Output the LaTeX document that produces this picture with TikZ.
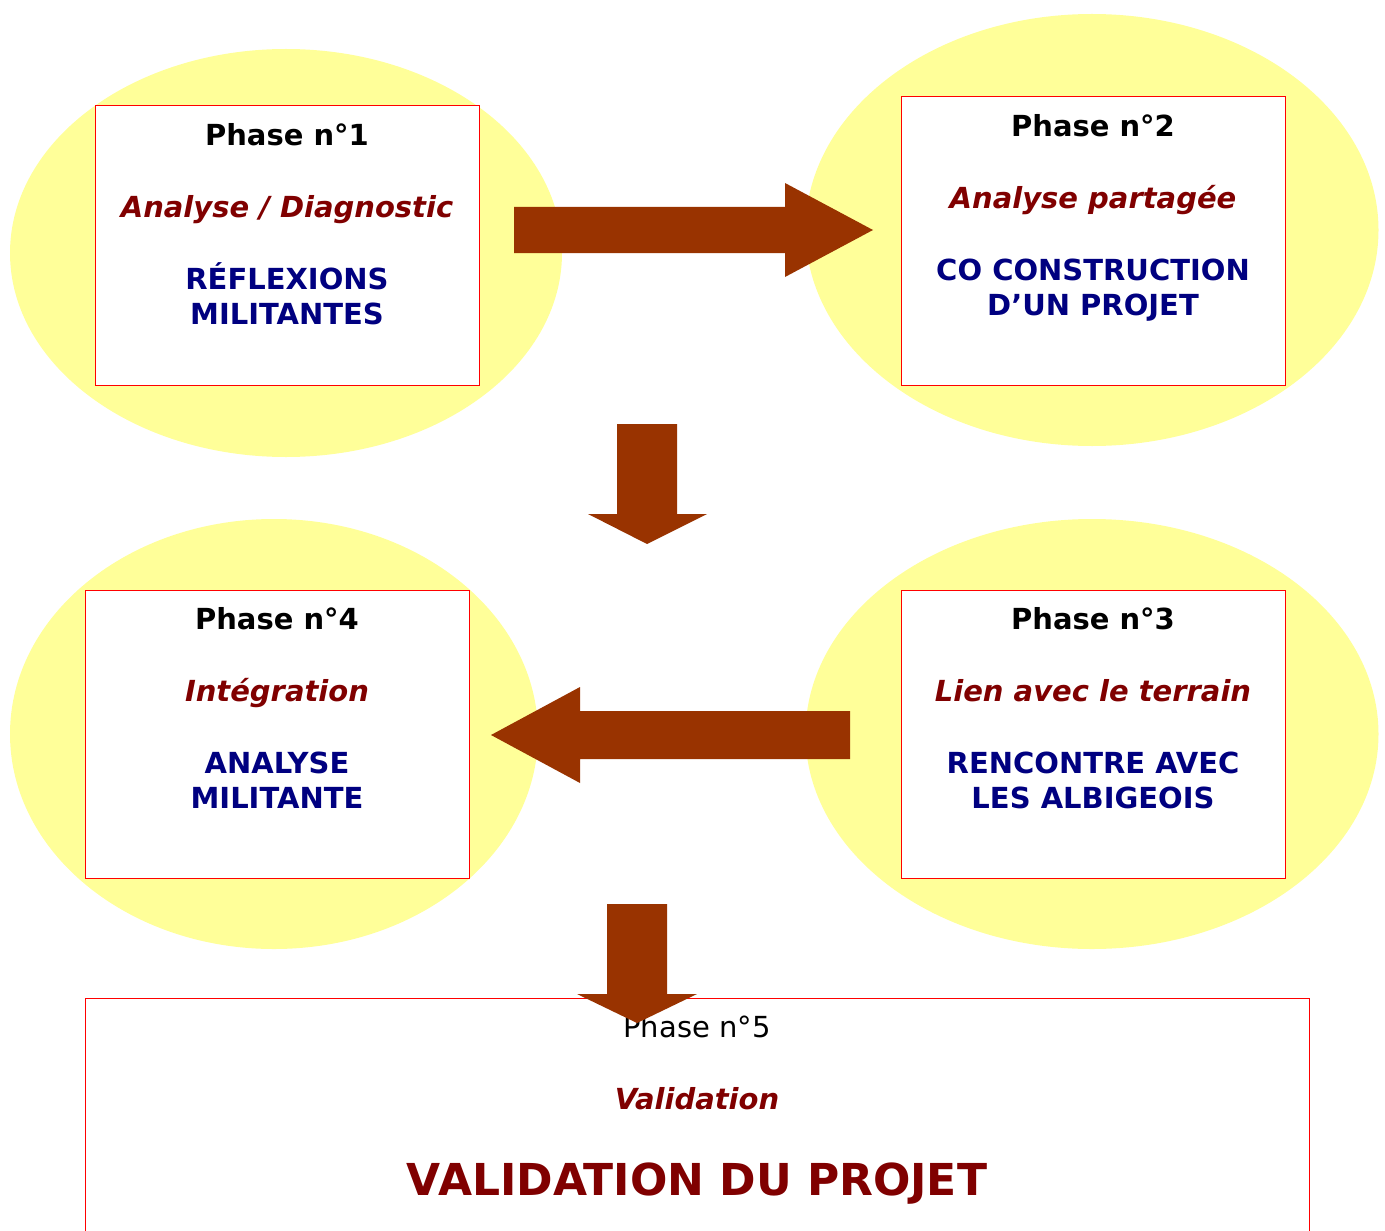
\documentclass[tikz,border=0pt]{standalone}
\usepackage{fontspec}
\setmainfont{DejaVu Sans}
\usetikzlibrary{shapes.geometric}
\definecolor{yel}{HTML}{FFFF99}
\definecolor{arr}{HTML}{993300}
\definecolor{dred}{HTML}{800000}
\definecolor{navyc}{HTML}{000080}
\tikzset{
  blob/.style={ellipse, fill=yel, draw=none, inner sep=0pt},
  card/.style={rectangle, draw=red, fill=white, line width=0.5pt, inner sep=0pt},
  bigarrow/.style={fill=arr, draw=none},
  phasetxt/.style={anchor=north, inner sep=0pt, align=center,
    font=\bfseries\fontsize{14.5}{17.6}\selectfont},
}
\newcommand{\mysubt}{\color{dred}\itshape}
\newcommand{\mycaps}{\color{navyc}}
\begin{document}
\begin{tikzpicture}[x=0.5pt,y=-0.5pt]
\useasboundingbox (0,0) rectangle (1385,1230);
\clip (0,0) rectangle (1385,1230);
% ellipses
\node[blob, minimum width=276pt, minimum height=204pt] (e1) at (286,253) {};
\node[blob, minimum width=286.5pt, minimum height=216pt] (e2) at (1092,230) {};
\node[blob, minimum width=264pt, minimum height=215pt] (e4) at (274,734) {};
\node[blob, minimum width=286.5pt, minimum height=215pt] (e3) at (1092,734) {};
% boxes
\node[card, minimum width=192pt, minimum height=139.5pt] (b1) at (287,245.5) {};
\node[card, minimum width=192pt, minimum height=144pt] (b2) at (1093,241) {};
\node[card, minimum width=192pt, minimum height=144pt] (b4) at (277,734) {};
\node[card, minimum width=192pt, minimum height=144pt] (b3) at (1093,734) {};
\node[card, minimum width=612pt, minimum height=125pt] (b5) at (697,1123) {};
% texts
\node[phasetxt] (t1) at (287,123) {Phase n°1\\[18.4pt]\mysubt Analyse / Diagnostic\\[18.4pt]\mycaps RÉFLEXIONS\\\mycaps MILITANTES};
\node[phasetxt] (t2) at (1093,114) {Phase n°2\\[18.4pt]\mysubt Analyse partagée\\[18.4pt]\mycaps CO CONSTRUCTION\\\mycaps D’UN PROJET};
\node[phasetxt] (t4) at (277,607) {Phase n°4\\[18.4pt]\mysubt Intégration\\[18.4pt]\mycaps ANALYSE\\\mycaps MILITANTE};
\node[phasetxt] (t3) at (1093,607) {Phase n°3\\[18.4pt]\mysubt Lien avec le terrain\\[18.4pt]\mycaps RENCONTRE AVEC\\\mycaps LES ALBIGEOIS};
\node[phasetxt, font=\fontsize{14.5}{17.6}\selectfont] (t5a) at (697,1015) {Phase n°5};
\node[phasetxt, text=dred, font=\bfseries\itshape\fontsize{14.5}{17.6}\selectfont] (t5b) at (697,1087) {Validation};
\node[anchor=base, inner sep=0pt, text=dred, font=\bfseries\fontsize{22}{26}\selectfont] (t5c) at (697,1195) {VALIDATION DU PROJET};
% arrows
\fill[bigarrow] (514,207) -- (785,207) -- (785,183) -- (873,230) -- (785,277) -- (785,253) -- (514,253) -- cycle;
\fill[bigarrow] (617,424) -- (677,424) -- (677,514) -- (707,514) -- (647,544) -- (588,514) -- (617,514) -- cycle;
\fill[bigarrow] (850,711) -- (580,711) -- (580,687) -- (491,735) -- (580,783) -- (580,759) -- (850,759) -- cycle;
\fill[bigarrow] (607,904) -- (667,904) -- (667,994) -- (697,994) -- (637,1023) -- (577,994) -- (607,994) -- cycle;
\end{tikzpicture}
\end{document}
